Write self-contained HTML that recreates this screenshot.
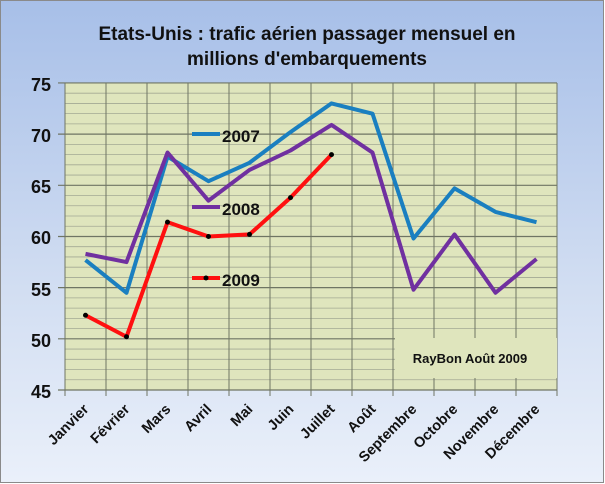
<!DOCTYPE html>
<html><head><meta charset="utf-8"><style>
html,body{margin:0;padding:0;width:605px;height:484px;overflow:hidden}
svg{display:block;font-family:"Liberation Sans",sans-serif;font-weight:bold}
</style></head><body>
<svg width="605" height="484" viewBox="0 0 605 484" xmlns="http://www.w3.org/2000/svg">
<defs>
<linearGradient id="bg" x1="0" y1="0" x2="0" y2="1">
<stop offset="0" stop-color="#a7bfe8"/><stop offset="0.6" stop-color="#d2def2"/><stop offset="1" stop-color="#eaf0fa"/>
</linearGradient>
</defs>
<rect x="0.5" y="0.5" width="603" height="482" fill="url(#bg)" stroke="#8a8a8a"/>
<text x="307" y="40" font-size="19" text-anchor="middle" fill="#111">Etats-Unis : trafic aérien passager mensuel en</text>
<text x="307" y="65" font-size="19" text-anchor="middle" fill="#111">millions d'embarquements</text>
<rect x="65" y="83" width="492" height="307" fill="#dfe5bd"/>
<g id="grid"></g>
<g font-size="18" text-anchor="end" fill="#111">
<text x="51" y="91">75</text><text x="51" y="142">70</text><text x="51" y="193">65</text>
<text x="51" y="244">60</text><text x="51" y="296">55</text><text x="51" y="347">50</text><text x="51" y="398">45</text>
</g>
<rect x="395" y="338" width="162" height="40" fill="#dfe5bd"/>
<text x="470" y="363" font-size="13" text-anchor="middle" fill="#111">RayBon Août 2009</text>
<g id="lines"></g>
<g font-size="17" fill="#111">
<line x1="192" y1="134" x2="220" y2="134" stroke="#1a7fc0" stroke-width="4"/>
<text x="222" y="142">2007</text>
<line x1="192" y1="207" x2="220" y2="207" stroke="#7030a0" stroke-width="4"/>
<text x="222" y="215">2008</text>
<line x1="192" y1="278" x2="220" y2="278" stroke="#ff1010" stroke-width="4"/>
<circle cx="206" cy="278" r="2.5" fill="#000"/>
<text x="222" y="286">2009</text>
</g>
<g id="xl" font-size="14.5" fill="#111"></g>
<script>
var ns="http://www.w3.org/2000/svg";
function el(p,t,a,txt){var e=document.createElementNS(ns,t);for(var k in a)e.setAttribute(k,a[k]);if(txt)e.textContent=txt;document.getElementById(p).appendChild(e);return e;}
for(var v=45;v<=75;v++){var y=390-(v-45)*10.235;el("grid","line",{x1:v%5==0?58:65,x2:557,y1:y,y2:y,stroke:v%5==0?"#6f7564":"#a3a994","stroke-width":v%5==0?1.2:0.8});}
for(var i=0;i<=12;i++){var x=65+41*i;el("grid","line",{x1:x,x2:x,y1:83,y2:396,stroke:"#6f7564","stroke-width":1});}
var Y=function(v){return 390-(v-45)*10.235},X=function(i){return 85.5+41*i};
var d7=[57.7,54.5,67.8,65.4,67.2,70.2,73.0,72.0,59.8,64.7,62.4,61.4];
var d8=[58.3,57.5,68.2,63.5,66.5,68.4,70.9,68.2,54.8,60.2,54.5,57.8];
var d9=[52.3,50.2,61.4,60.0,60.2,63.8,68.0];
function pl(d,c){el("lines","polyline",{points:d.map(function(v,i){return X(i)+","+Y(v)}).join(" "),fill:"none",stroke:c,"stroke-width":4,"stroke-linejoin":"round"});}
pl(d7,"#1a7fc0");pl(d8,"#7030a0");pl(d9,"#ff1010");
d9.forEach(function(v,i){el("lines","circle",{cx:X(i),cy:Y(v),r:2.5,fill:"#000"});});
var m=["Janvier","Février","Mars","Avril","Mai","Juin","Juillet","Août","Septembre","Octobre","Novembre","Décembre"];
m.forEach(function(t,i){var x=X(i)+4,y=410;el("xl","text",{x:x,y:y,"text-anchor":"end",transform:"rotate(-45 "+x+" "+y+")"},t);});
</script>
</svg>
</body></html>
